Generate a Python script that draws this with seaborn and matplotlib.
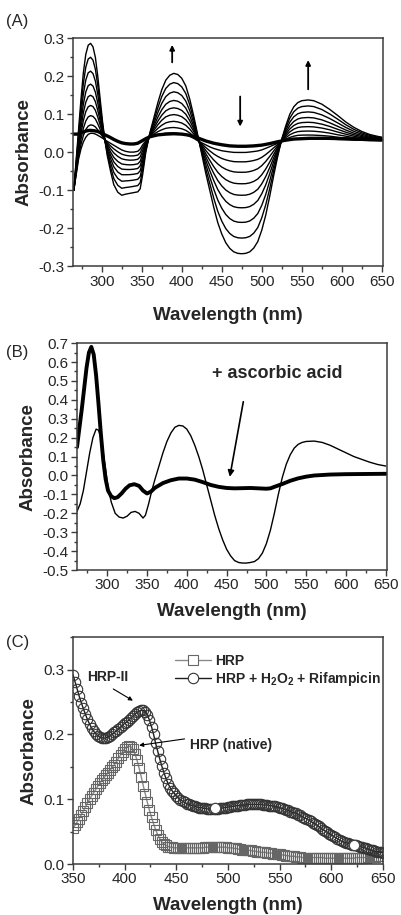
import numpy as np
import pandas as pd
import matplotlib
matplotlib.use("Agg")
import matplotlib.pyplot as plt
from matplotlib.ticker import MultipleLocator
import seaborn as sns

sns.set_theme(style="ticks")
plt.rcParams["font.family"] = ["Liberation Sans", "DejaVu Sans"]
plt.rcParams["mathtext.fontset"] = "custom"
plt.rcParams["mathtext.rm"] = "Liberation Sans:bold"
plt.rcParams["mathtext.it"] = "Liberation Sans:bold"
plt.rcParams["mathtext.bf"] = "Liberation Sans:bold"

# ---------------- data ----------------
# (A) titration difference spectra: first and last thin traces, plus the thick trace
wl_a = [265, 268, 271, 274, 277, 280, 283, 286, 289, 292,
        295, 298, 301, 304, 307, 311, 315, 320, 325, 330,
        335, 340, 345, 348, 351, 355, 360, 365, 370, 375,
        380, 385, 390, 395, 400, 405, 410, 415, 420, 425,
        430, 435, 440, 445, 450, 455, 460, 465, 470, 475,
        480, 485, 490, 495, 500, 505, 510, 515, 520, 525,
        530, 535, 540, 545, 550, 558, 565, 575, 585, 595,
        605, 615, 625, 635, 645, 650]
a_last = [-0.100, -0.020, 0.060, 0.140, 0.210, 0.258, 0.282, 0.287, 0.278, 0.250,
          0.200, 0.140, 0.080, 0.030, -0.010, -0.050, -0.085, -0.105, -0.113, -0.110,
          -0.108, -0.106, -0.104, -0.096, -0.060, 0.000, 0.050, 0.090, 0.130, 0.165,
          0.190, 0.203, 0.208, 0.205, 0.195, 0.175, 0.140, 0.095, 0.045, -0.005,
          -0.055, -0.100, -0.145, -0.185, -0.215, -0.238, -0.253, -0.262, -0.266, -0.267,
          -0.266, -0.262, -0.252, -0.235, -0.205, -0.165, -0.115, -0.060, -0.010, 0.035,
          0.070, 0.100, 0.120, 0.131, 0.136, 0.138, 0.136, 0.127, 0.113, 0.097,
          0.080, 0.066, 0.055, 0.047, 0.042, 0.040]
a_first = [-0.100, -0.060, -0.020, 0.005, 0.022, 0.033, 0.040, 0.043, 0.043, 0.042,
           0.040, 0.038, 0.036, 0.033, 0.030, 0.026, 0.022, 0.016, 0.010, 0.006,
           0.004, 0.004, 0.006, 0.012, 0.022, 0.031, 0.039, 0.042, 0.044, 0.045,
           0.046, 0.046, 0.046, 0.045, 0.044, 0.042, 0.039, 0.035, 0.030, 0.026,
           0.022, 0.018, 0.015, 0.013, 0.011, 0.010, 0.009, 0.008, 0.008, 0.008,
           0.008, 0.009, 0.010, 0.011, 0.013, 0.016, 0.019, 0.022, 0.025, 0.028,
           0.030, 0.031, 0.032, 0.033, 0.033, 0.033, 0.033, 0.033, 0.033, 0.032,
           0.032, 0.031, 0.031, 0.030, 0.030, 0.030]
# relative progress of each trace (read from the 475 nm trough spacing)
a_progress = [1.0, 0.85, 0.70, 0.56, 0.44, 0.33, 0.22, 0.12, 0.03]

wl_a_thick = [265, 270, 275, 280, 285, 290, 295, 300, 305, 310,
              315, 320, 325, 330, 335, 340, 345, 350, 355, 360,
              370, 380, 390, 400, 410, 420, 430, 440, 450, 460,
              470, 480, 490, 500, 510, 520, 530, 540, 550, 560,
              580, 600, 620, 640, 650]
a_thick = [0.048, 0.048, 0.052, 0.056, 0.058, 0.057, 0.055, 0.050, 0.045, 0.040,
           0.034, 0.029, 0.025, 0.023, 0.022, 0.022, 0.024, 0.030, 0.036, 0.041,
           0.046, 0.048, 0.049, 0.048, 0.045, 0.038, 0.030, 0.024, 0.020, 0.017,
           0.016, 0.016, 0.017, 0.019, 0.023, 0.028, 0.032, 0.035, 0.036, 0.037,
           0.037, 0.036, 0.035, 0.034, 0.033]

# (B) before / after ascorbic acid
wl_b_thin = [262, 266, 270, 274, 278, 282, 286, 289, 292, 295,
             298, 301, 305, 310, 315, 320, 325, 330, 335, 340,
             345, 348, 352, 356, 360, 365, 370, 375, 380, 385,
             390, 395, 400, 405, 410, 415, 420, 425, 430, 435,
             440, 445, 450, 455, 460, 465, 470, 475, 480, 485,
             490, 495, 500, 505, 510, 515, 520, 525, 530, 535,
             540, 545, 550, 560, 570, 580, 590, 600, 610, 620,
             630, 640, 650]
b_thin = [-0.19, -0.15, -0.08, 0.02, 0.12, 0.20, 0.245, 0.24, 0.20, 0.12,
          0.03, -0.06, -0.14, -0.20, -0.22, -0.225, -0.215, -0.195, -0.19, -0.20,
          -0.225, -0.21, -0.15, -0.08, -0.02, 0.05, 0.12, 0.18, 0.225, 0.255,
          0.265, 0.262, 0.245, 0.21, 0.16, 0.10, 0.03, -0.05, -0.13, -0.21,
          -0.28, -0.34, -0.39, -0.425, -0.45, -0.46, -0.463, -0.463, -0.46, -0.455,
          -0.44, -0.41, -0.36, -0.29, -0.20, -0.10, -0.01, 0.06, 0.11, 0.145,
          0.165, 0.175, 0.18, 0.182, 0.175, 0.16, 0.14, 0.12, 0.10, 0.085,
          0.07, 0.058, 0.05]
wl_b_thick = [262, 265, 268, 271, 274, 277, 280, 283, 286, 289,
              292, 295, 298, 301, 305, 309, 313, 318, 323, 328,
              334, 340, 345, 350, 355, 360, 370, 380, 390, 400,
              410, 420, 430, 440, 450, 460, 470, 480, 490, 500,
              505, 510, 520, 530, 540, 550, 560, 580, 600, 625,
              650]
b_thick = [0.15, 0.25, 0.35, 0.46, 0.57, 0.65, 0.68, 0.64, 0.53, 0.38,
           0.22, 0.08, -0.02, -0.08, -0.11, -0.12, -0.115, -0.095, -0.07, -0.052,
           -0.046, -0.055, -0.08, -0.095, -0.085, -0.065, -0.04, -0.025, -0.016, -0.016,
           -0.022, -0.035, -0.05, -0.06, -0.066, -0.068, -0.067, -0.066, -0.068, -0.07,
           -0.068, -0.06, -0.045, -0.028, -0.015, -0.006, 0.0, 0.005, 0.007, 0.008,
           0.009]

# (C) HRP spectra, one point every 2 nm from 350 to 650
wl_c = list(range(350, 651, 2))
hrp = [0.055, 0.060, 0.065, 0.070, 0.076, 0.082, 0.088, 0.094, 0.100, 0.105,
       0.110, 0.115, 0.120, 0.125, 0.129, 0.133, 0.137, 0.141, 0.145, 0.149,
       0.153, 0.158, 0.163, 0.168, 0.173, 0.178, 0.181, 0.182, 0.181, 0.177,
       0.170, 0.160, 0.148, 0.135, 0.121, 0.108, 0.095, 0.083, 0.072, 0.062,
       0.053, 0.045, 0.039, 0.034, 0.031, 0.029, 0.027, 0.026, 0.026, 0.025,
       0.025, 0.025, 0.025, 0.025, 0.025, 0.025, 0.025, 0.025, 0.025, 0.025,
       0.025, 0.025, 0.025, 0.025, 0.026, 0.026, 0.026, 0.026, 0.026, 0.026,
       0.026, 0.026, 0.026, 0.026, 0.026, 0.025, 0.025, 0.025, 0.024, 0.024,
       0.023, 0.023, 0.022, 0.022, 0.021, 0.021, 0.021, 0.020, 0.020, 0.019,
       0.019, 0.018, 0.018, 0.018, 0.017, 0.017, 0.017, 0.016, 0.016, 0.015,
       0.015, 0.014, 0.014, 0.013, 0.013, 0.012, 0.012, 0.012, 0.011, 0.011,
       0.011, 0.010, 0.010, 0.010, 0.010, 0.010, 0.010, 0.010, 0.010, 0.010,
       0.010, 0.010, 0.009, 0.009, 0.009, 0.009, 0.009, 0.009, 0.009, 0.009,
       0.009, 0.009, 0.009, 0.009, 0.009, 0.009, 0.009, 0.010, 0.010, 0.010,
       0.010, 0.010, 0.010, 0.011, 0.011, 0.011, 0.011, 0.012, 0.012, 0.012,
       0.013]
hrp_rif = [0.292, 0.281, 0.270, 0.259, 0.249, 0.240, 0.231, 0.223, 0.216, 0.210,
           0.205, 0.201, 0.198, 0.196, 0.195, 0.194, 0.195, 0.196, 0.198, 0.200,
           0.203, 0.205, 0.208, 0.211, 0.214, 0.217, 0.219, 0.222, 0.225, 0.228,
           0.231, 0.234, 0.236, 0.237, 0.237, 0.235, 0.230, 0.222, 0.212, 0.200,
           0.186, 0.174, 0.162, 0.151, 0.141, 0.132, 0.124, 0.118, 0.113, 0.109,
           0.105, 0.102, 0.099, 0.097, 0.095, 0.093, 0.092, 0.091, 0.090, 0.089,
           0.088, 0.087, 0.087, 0.086, 0.086, 0.085, 0.085, 0.085, 0.085, 0.085,
           0.085, 0.086, 0.086, 0.087, 0.087, 0.088, 0.088, 0.089, 0.089, 0.090,
           0.090, 0.091, 0.091, 0.091, 0.092, 0.092, 0.092, 0.092, 0.092, 0.092,
           0.092, 0.092, 0.091, 0.091, 0.091, 0.090, 0.090, 0.089, 0.089, 0.088,
           0.087, 0.086, 0.085, 0.084, 0.083, 0.081, 0.080, 0.079, 0.078, 0.076,
           0.075, 0.073, 0.071, 0.070, 0.068, 0.066, 0.064, 0.062, 0.060, 0.058,
           0.055, 0.053, 0.051, 0.049, 0.047, 0.045, 0.043, 0.041, 0.039, 0.037,
           0.035, 0.034, 0.033, 0.032, 0.031, 0.030, 0.030, 0.029, 0.028, 0.027,
           0.026, 0.025, 0.024, 0.023, 0.022, 0.021, 0.020, 0.019, 0.019, 0.018,
           0.017]
# a few larger open circles that stand out on the rifampicin trace
rif_big_wl = [487, 622]
rif_big = [0.086, 0.030]

# ---------------- figure ----------------
fig = plt.figure(figsize=(4.01, 9.15), dpi=100)
ax_a = fig.add_axes([0.182, 0.709, 0.773, 0.249])
ax_b = fig.add_axes([0.192, 0.377, 0.773, 0.248])
ax_c = fig.add_axes([0.182, 0.0557, 0.773, 0.248])

spine_col = "#3c3c3c"


def style_axes(ax, xlim, ylim, ymajor, yminor, xpad):
    ax.set_xlim(*xlim)
    ax.set_ylim(*ylim)
    ax.xaxis.set_major_locator(MultipleLocator(50))
    ax.xaxis.set_minor_locator(MultipleLocator(25))
    ax.yaxis.set_major_locator(MultipleLocator(ymajor))
    ax.yaxis.set_minor_locator(MultipleLocator(yminor))
    ax.yaxis.set_major_formatter(matplotlib.ticker.FormatStrFormatter("%.1f"))
    for s in ax.spines.values():
        s.set_visible(True)
        s.set_color(spine_col)
        s.set_linewidth(1.1)
    ax.tick_params(which="both", direction="out", color=spine_col, width=1.0,
                   top=False, right=False, labelsize=11, pad=2)
    ax.tick_params(which="major", length=4)
    ax.tick_params(which="minor", length=2.5)
    ax.set_xlabel("Wavelength (nm)", fontsize=13.5, fontweight="bold", labelpad=xpad)
    ax.set_ylabel("Absorbance", fontsize=13.5, fontweight="bold", labelpad=4)
    ax.grid(False)


# (A)
fam = []
for i, p in enumerate(a_progress):
    vals = [f + p * (l - f) for f, l in zip(a_first, a_last)]
    fam.append(pd.DataFrame({"wl": wl_a, "abs": vals, "trace": i}))
fam = pd.concat(fam)
sns.lineplot(data=fam, x="wl", y="abs", hue="trace", palette=["black"] * len(a_progress),
             estimator=None, legend=False, lw=1.0, ax=ax_a)
sns.lineplot(x=wl_a_thick, y=a_thick, color="black", lw=2.4, estimator=None, ax=ax_a)
style_axes(ax_a, (264, 651.5), (-0.3, 0.3), 0.1, 0.05, 13)
arrow = dict(arrowstyle="-|>", color="black", lw=1.3, mutation_scale=7, shrinkA=0, shrinkB=0)
ax_a.annotate("", xy=(388, 0.283), xytext=(388, 0.237), arrowprops=arrow)
ax_a.annotate("", xy=(473, 0.068), xytext=(473, 0.147), arrowprops=arrow)
ax_a.annotate("", xy=(558, 0.243), xytext=(558, 0.166), arrowprops=arrow)

# (B)
sns.lineplot(x=wl_b_thin, y=b_thin, color="black", lw=1.0, estimator=None, ax=ax_b)
sns.lineplot(x=wl_b_thick, y=b_thick, color="black", lw=2.8, estimator=None, ax=ax_b)
style_axes(ax_b, (262, 651.5), (-0.5, 0.7), 0.1, 0.05, 8)
ax_b.text(514, 0.54, "+ ascorbic acid", fontsize=13, fontweight="bold",
          ha="center", va="center")
ax_b.annotate("", xy=(454, -0.007), xytext=(471, 0.39),
              arrowprops=dict(arrowstyle="-|>", color="black", lw=1.2,
                              mutation_scale=9, shrinkA=0, shrinkB=0))

# (C)
sns.lineplot(x=wl_c, y=hrp, color="#8a8a8a", lw=1.0, marker="s", markersize=6.5,
             mfc="none", mec="#666666", mew=0.8, estimator=None, label="HRP", ax=ax_c)
sns.lineplot(x=wl_c, y=hrp_rif, color="#1e1e1e", lw=1.0, marker="o", markersize=7.5,
             mfc="none", mec="#333333", mew=0.8, estimator=None,
             label="HRP + H$_2$O$_2$ + Rifampicin", ax=ax_c)
sns.scatterplot(x=rif_big_wl, y=rif_big, marker="o", s=55, facecolor="white",
                edgecolor="#444444", linewidth=0.9, legend=False, ax=ax_c, zorder=5)
style_axes(ax_c, (350, 650), (0, 0.35), 0.1, 0.05, 8)
leg = ax_c.legend(loc="upper left", bbox_to_anchor=(0.33, 0.925), frameon=False,
                  borderaxespad=0, borderpad=0, handlelength=2.6, handletextpad=0.25,
                  labelspacing=0.15, prop={"weight": "bold", "size": 10})
for h in leg.legend_handles:
    h.set_markerfacecolor("white")
thin = dict(arrowstyle="-|>", color="black", lw=0.8, mutation_scale=6, shrinkA=0, shrinkB=0)
ax_c.text(384, 0.288, "HRP-II", fontsize=10, fontweight="bold", ha="center", va="center")
ax_c.annotate("", xy=(408, 0.252), xytext=(389, 0.27), arrowprops=thin)
ax_c.text(503, 0.183, "HRP (native)", fontsize=10, fontweight="bold", ha="center", va="center")
ax_c.annotate("", xy=(414, 0.183), xytext=(458, 0.193), arrowprops=thin)

# panel letters
for y, lab in [(0.985, "(A)"), (0.623, "(B)"), (0.306, "(C)")]:
    fig.text(0.015, y, lab, fontsize=12, ha="left", va="top")

fig.savefig("out.png", dpi=100)
